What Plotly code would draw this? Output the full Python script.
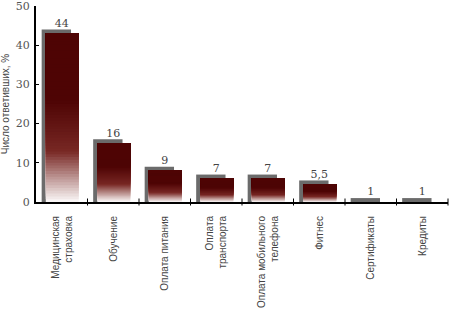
import plotly.graph_objects as go

categories = ["Медицинская<br>страховка", "Обучение", "Оплата питания", "Оплата<br>транспорта",
              "Оплата мобильного<br>телефона", "Фитнес", "Сертификаты", "Кредиты"]
values = [44, 16, 9, 7, 7, 5.5, 1, 1]
value_labels = ["44", "16", "9", "7", "7", "5,5", "1", "1"]

front_drop = 1.0
n_slices = 60
top_rgb = (78, 4, 4)
mid_rgb = (120, 40, 36)
bot_rgb = (252, 250, 250)

def slice_color(frac):
    # frac 0 = bottom, 1 = top
    if frac >= 0.6:
        c = top_rgb
    elif frac >= 0.3:
        t = (frac - 0.3) / 0.3
        c = tuple(mid_rgb[k] + (top_rgb[k] - mid_rgb[k]) * t for k in range(3))
    else:
        t = frac / 0.3
        c = tuple(bot_rgb[k] + (mid_rgb[k] - bot_rgb[k]) * t for k in range(3))
    return "rgb(%d,%d,%d)" % tuple(int(round(v)) for v in c)

xs = list(range(len(categories)))
front = [max(v - front_drop, 0) for v in values]

fig = go.Figure()
fig.add_trace(go.Bar(x=xs, y=values, width=0.57, offset=-0.39,
                     marker=dict(color="#6b6b6b", line=dict(width=0)), hoverinfo="skip"))
for i in range(n_slices):
    base = [f * i / n_slices for f in front]
    fig.add_trace(go.Bar(x=xs, y=[f - b for f, b in zip(front, base)],
                         base=base, width=0.64, offset=-0.31,
                         marker=dict(color=slice_color((i + 0.5) / n_slices), line=dict(width=0)),
                         hoverinfo="skip"))
fig.add_trace(go.Scatter(x=xs, y=values, mode="text", text=value_labels,
                         textposition="top center", cliponaxis=False,
                         textfont=dict(family="DejaVu Serif", size=11, color="#444")))

fig.update_layout(
    width=450, height=313, showlegend=False, barmode="overlay",
    plot_bgcolor="white", paper_bgcolor="white",
    margin=dict(l=36, r=2, t=6, b=111, autoexpand=False),
    xaxis=dict(range=[-0.5, 7.5], tickvals=xs, ticktext=categories, tickangle=-90,
               showline=True, linecolor="black", linewidth=2, showgrid=False, zeroline=False,
               ticks="", ticklabelstandoff=8, automargin=False,
               tickfont=dict(family="Liberation Sans Narrow, Liberation Sans", size=10, color="#444")),
    yaxis=dict(range=[0, 50], tickvals=[0, 10, 20, 30, 40, 50], showline=True, linecolor="black",
               linewidth=2, showgrid=False, zeroline=False, ticks="inside", ticklen=3, tickcolor="black",
               ticklabeloverflow="allow", ticklabelstandoff=2, automargin=False,
               tickfont=dict(family="DejaVu Serif", size=11, color="#555"),
               title=dict(text="Число ответивших, %", standoff=4,
                          font=dict(family="Liberation Sans", size=10, color="#444"))),
)
# boundary ticks on the category axis
fig.add_trace(go.Scatter(x=[k + 0.5 for k in xs], y=[0] * len(xs), mode="markers",
                         marker=dict(symbol="line-ns", size=5, line=dict(width=1, color="black")),
                         hoverinfo="skip", cliponaxis=False))
fig.write_html("out.html")
